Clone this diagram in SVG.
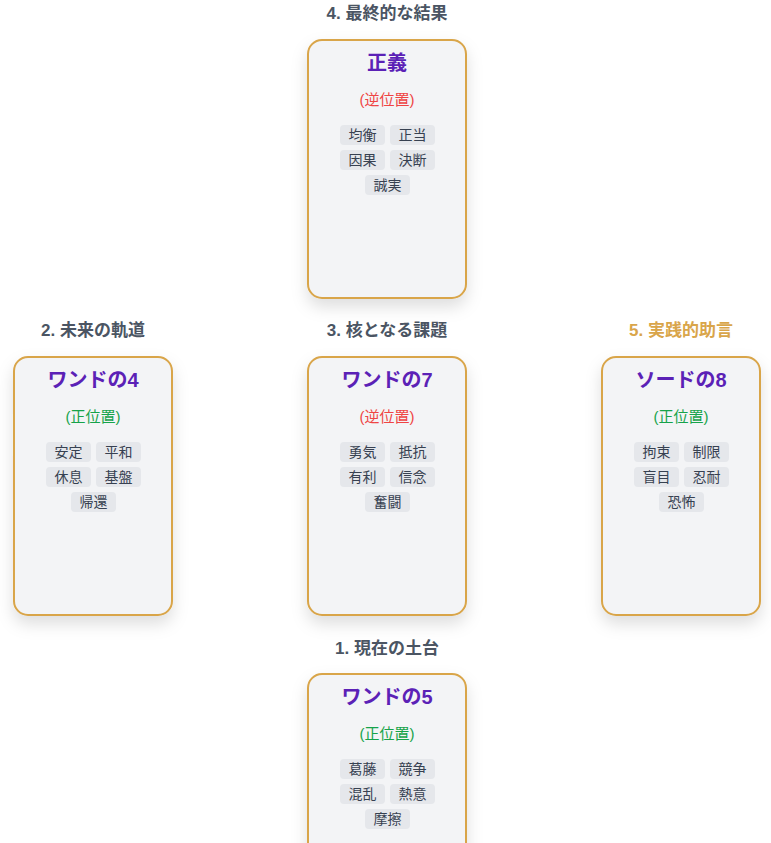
<svg xmlns="http://www.w3.org/2000/svg" width="771" height="843" viewBox="0 0 771 843">
<defs>
<filter id="sh" x="-30%" y="-20%" width="160%" height="150%">
<feDropShadow dx="0" dy="8" stdDeviation="8" flood-color="#000" flood-opacity="0.13"/>
</filter>
<style>
text{font-family:"Liberation Sans","Noto Sans CJK JP",sans-serif;text-anchor:middle}
.card{fill:#f3f4f6;stroke:#d9a54a;stroke-width:2}
.pos{font-size:17px;font-weight:bold;fill:#4b5563}
.pos5{font-size:17px;font-weight:bold;fill:#d9a54a}
.name{font-size:20px;font-weight:bold;fill:#5b21b6}
.rev{font-size:15px;fill:#ef4444}
.up{font-size:15px;fill:#16a34a}
.tag{fill:#e5e7eb}
.tt{font-size:14px;fill:#374151}
</style>
</defs>
<g id="connectors"></g>
<g id="card4">
<text class="pos" x="387" y="19">4. 最終的な結果</text>
<rect class="card" x="308" y="40" width="158" height="258" rx="14" filter="url(#sh)"/>
<text class="name" x="387" y="70">正義</text>
<text class="rev" x="387" y="105">(逆位置)</text>
<rect class="tag" x="340" y="125" width="45" height="20" rx="4"/><text class="tt" x="362.5" y="140">均衡</text>
<rect class="tag" x="390" y="125" width="45" height="20" rx="4"/><text class="tt" x="412.5" y="140">正当</text>
<rect class="tag" x="340" y="150" width="45" height="20" rx="4"/><text class="tt" x="362.5" y="165">因果</text>
<rect class="tag" x="390" y="150" width="45" height="20" rx="4"/><text class="tt" x="412.5" y="165">決断</text>
<rect class="tag" x="365" y="175" width="45" height="20" rx="4"/><text class="tt" x="387.5" y="190">誠実</text>
</g>
<g id="card2">
<text class="pos" x="93" y="336">2. 未来の軌道</text>
<rect class="card" x="14" y="357" width="158" height="258" rx="14" filter="url(#sh)"/>
<text class="name" x="93" y="387">ワンドの4</text>
<text class="up" x="93" y="422">(正位置)</text>
<rect class="tag" x="46" y="442" width="45" height="20" rx="4"/><text class="tt" x="68.5" y="457">安定</text>
<rect class="tag" x="96" y="442" width="45" height="20" rx="4"/><text class="tt" x="118.5" y="457">平和</text>
<rect class="tag" x="46" y="467" width="45" height="20" rx="4"/><text class="tt" x="68.5" y="482">休息</text>
<rect class="tag" x="96" y="467" width="45" height="20" rx="4"/><text class="tt" x="118.5" y="482">基盤</text>
<rect class="tag" x="71" y="492" width="45" height="20" rx="4"/><text class="tt" x="93.5" y="507">帰還</text>
</g>
<g id="card3">
<text class="pos" x="387" y="336">3. 核となる課題</text>
<rect class="card" x="308" y="357" width="158" height="258" rx="14" filter="url(#sh)"/>
<text class="name" x="387" y="387">ワンドの7</text>
<text class="rev" x="387" y="422">(逆位置)</text>
<rect class="tag" x="340" y="442" width="45" height="20" rx="4"/><text class="tt" x="362.5" y="457">勇気</text>
<rect class="tag" x="390" y="442" width="45" height="20" rx="4"/><text class="tt" x="412.5" y="457">抵抗</text>
<rect class="tag" x="340" y="467" width="45" height="20" rx="4"/><text class="tt" x="362.5" y="482">有利</text>
<rect class="tag" x="390" y="467" width="45" height="20" rx="4"/><text class="tt" x="412.5" y="482">信念</text>
<rect class="tag" x="365" y="492" width="45" height="20" rx="4"/><text class="tt" x="387.5" y="507">奮闘</text>
</g>
<g id="card5">
<text class="pos5" x="681" y="336">5. 実践的助言</text>
<rect class="card" x="602" y="357" width="158" height="258" rx="14" filter="url(#sh)"/>
<text class="name" x="681" y="387">ソードの8</text>
<text class="up" x="681" y="422">(正位置)</text>
<rect class="tag" x="634" y="442" width="45" height="20" rx="4"/><text class="tt" x="656.5" y="457">拘束</text>
<rect class="tag" x="684" y="442" width="45" height="20" rx="4"/><text class="tt" x="706.5" y="457">制限</text>
<rect class="tag" x="634" y="467" width="45" height="20" rx="4"/><text class="tt" x="656.5" y="482">盲目</text>
<rect class="tag" x="684" y="467" width="45" height="20" rx="4"/><text class="tt" x="706.5" y="482">忍耐</text>
<rect class="tag" x="659" y="492" width="45" height="20" rx="4"/><text class="tt" x="681.5" y="507">恐怖</text>
</g>
<g id="card1">
<text class="pos" x="387" y="654">1. 現在の土台</text>
<rect class="card" x="308" y="674" width="158" height="258" rx="14" filter="url(#sh)"/>
<text class="name" x="387" y="704">ワンドの5</text>
<text class="up" x="387" y="739">(正位置)</text>
<rect class="tag" x="340" y="759" width="45" height="20" rx="4"/><text class="tt" x="362.5" y="774">葛藤</text>
<rect class="tag" x="390" y="759" width="45" height="20" rx="4"/><text class="tt" x="412.5" y="774">競争</text>
<rect class="tag" x="340" y="784" width="45" height="20" rx="4"/><text class="tt" x="362.5" y="799">混乱</text>
<rect class="tag" x="390" y="784" width="45" height="20" rx="4"/><text class="tt" x="412.5" y="799">熱意</text>
<rect class="tag" x="365" y="809" width="45" height="20" rx="4"/><text class="tt" x="387.5" y="824">摩擦</text>
</g>
</svg>
